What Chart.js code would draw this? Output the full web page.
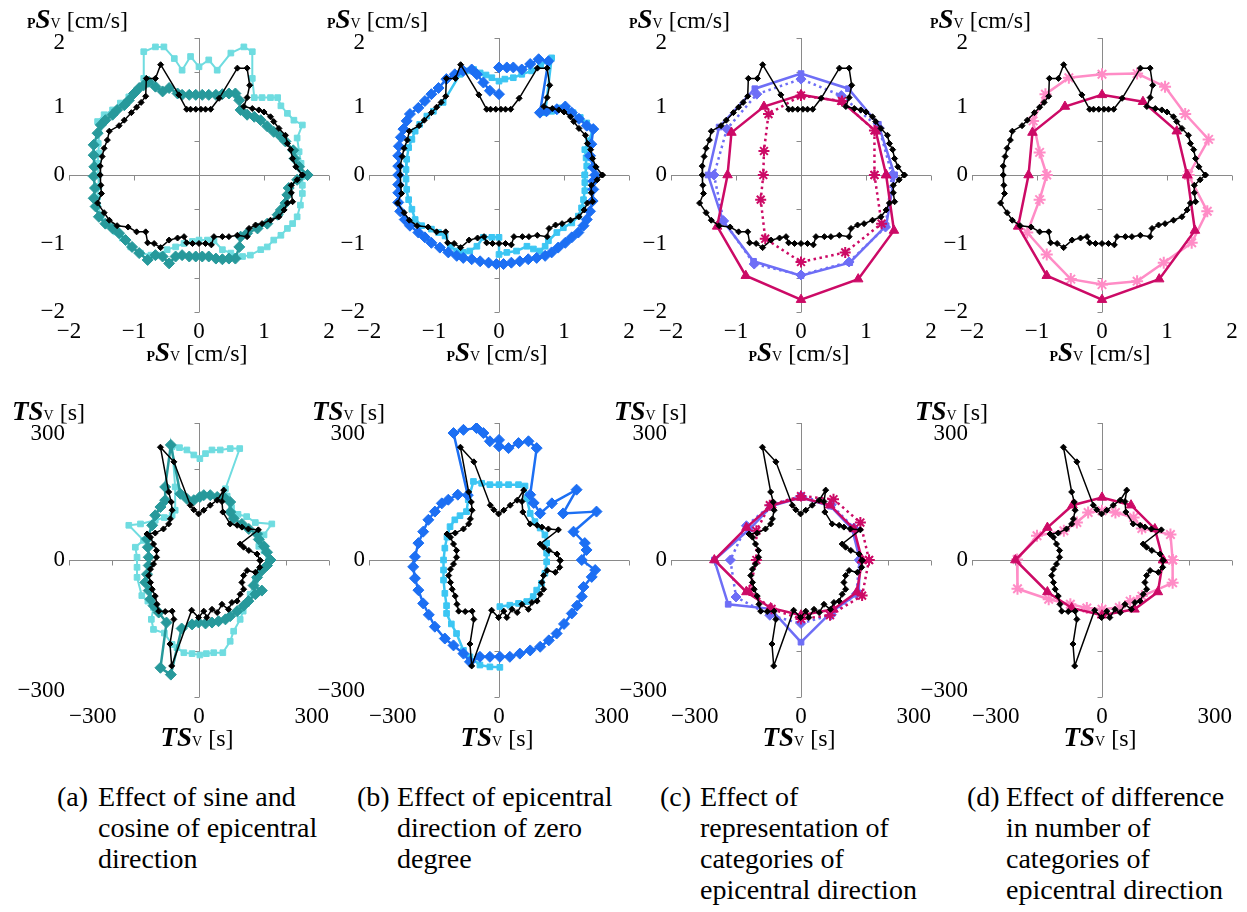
<!DOCTYPE html>
<html>
<head>
<meta charset="utf-8">
<script src="https://cdn.jsdelivr.net/npm/chart.js@4.4.0/dist/chart.umd.min.js"></script>
<style>
  body { margin: 0; background: #fff; width: 1247px; height: 912px; position: relative; overflow: hidden;
         font-family: 'Liberation Serif', 'Times New Roman', Tinos, 'Nimbus Roman', 'DejaVu Serif', serif; color: #000; }
  canvas { position: absolute; }
  .t { position: absolute; white-space: nowrap; font-size: 24px; line-height: 24px; }
  .t b { font-style: italic; font-size: 27px; }
  .t .s { font-size: 14px; }
  .t .p { font-size: 14px; font-weight: bold; }
  .cap { position: absolute; top: 781px; font-size: 28px; line-height: 31px; white-space: nowrap; }
  .cap .lbl { position: absolute; left: 0; top: 0; }
  .probe { position: absolute; left: 1150px; top: 0; font-size: 12px; }
</style>
</head>
<body>
<script>
/* global Chart */
const SERIF = "'Liberation Serif', 'Times New Roman', Tinos, 'Nimbus Roman', 'DejaVu Serif', serif";

// tick labels / tick marks
const psTicks = [-2, -1, 0, 1, 2];
const psMarksX = [-2, -1, 1, 2];
const psMarksY = [-2, -1.5, -0.5, 0.5, 1.5, 2];
const tsTicks = [-300, 0, 300];
const tsMarks = [-300, -200, 200, 300];

// ---- pSv [cm/s] (top row), [x, y] pairs in plot order ----
const blackPS = [[1.59,0],[1.49,0.12],[1.44,0.24],[1.41,0.37],[1.36,0.46],[1.33,0.58],[1.23,0.68],[1.15,0.78],[1.10,0.85],[1.00,0.92],[0.92,0.95],[0.82,0.97],[0.69,1.00],[0.74,1.13],[0.78,1.31],[0.74,1.56],[0.59,1.56],[0.31,1.12],[0.18,0.96],[0.10,0.96],[0.03,0.96],[-0.05,0.96],[-0.13,0.96],[-0.19,0.96],[-0.31,1.17],[-0.59,1.61],[-0.67,1.41],[-0.81,1.41],[-0.82,1.15],[-0.89,1.06],[-0.96,0.99],[-1.04,0.91],[-1.15,0.80],[-1.23,0.72],[-1.38,0.64],[-1.41,0.51],[-1.46,0.39],[-1.49,0.27],[-1.52,0.13],[-1.52,0],[-1.51,-0.15],[-1.50,-0.27],[-1.56,-0.41],[-1.46,-0.55],[-1.38,-0.66],[-1.26,-0.74],[-1.09,-0.76],[-0.96,-0.83],[-0.82,-0.83],[-0.79,-0.99],[-0.69,-1.00],[-0.59,-1.06],[-0.46,-0.95],[-0.33,-0.92],[-0.23,-0.90],[-0.19,-0.99],[-0.10,-1.00],[0,-1.00],[0.10,-1.00],[0.19,-1.02],[0.23,-0.90],[0.36,-0.90],[0.46,-0.90],[0.59,-0.88],[0.74,-0.90],[0.77,-0.78],[0.87,-0.73],[0.97,-0.71],[1.10,-0.66],[1.23,-0.61],[1.31,-0.51],[1.36,-0.41],[1.44,-0.39],[1.42,-0.26],[1.42,-0.15],[1.51,-0.07]];
const tealPS = [[1.67,0],[1.54,0.12],[1.47,0.24],[1.45,0.36],[1.33,0.49],[1.26,0.56],[1.15,0.63],[1.05,0.71],[0.95,0.80],[0.85,0.85],[0.74,0.88],[0.64,0.95],[0.62,1.09],[0.56,1.19],[0.46,1.19],[0.36,1.18],[0.26,1.17],[0.15,1.17],[0.05,1.17],[-0.05,1.17],[-0.15,1.17],[-0.26,1.17],[-0.33,1.19],[-0.46,1.27],[-0.56,1.22],[-0.67,1.29],[-0.77,1.36],[-0.85,1.31],[-0.92,1.27],[-1.00,1.19],[-1.08,1.09],[-1.15,1.02],[-1.26,0.95],[-1.33,0.88],[-1.44,0.80],[-1.51,0.73],[-1.56,0.61],[-1.62,0.44],[-1.62,0.29],[-1.61,0.12],[-1.62,-0.02],[-1.60,-0.19],[-1.62,-0.34],[-1.59,-0.46],[-1.54,-0.61],[-1.44,-0.71],[-1.33,-0.78],[-1.23,-0.85],[-1.13,-0.95],[-1.03,-1.05],[-0.92,-1.14],[-0.79,-1.24],[-0.67,-1.17],[-0.56,-1.19],[-0.46,-1.29],[-0.36,-1.19],[-0.26,-1.17],[-0.15,-1.19],[-0.05,-1.19],[0.05,-1.19],[0.15,-1.19],[0.26,-1.22],[0.36,-1.23],[0.46,-1.22],[0.56,-1.22],[0.62,-1.05],[0.64,-0.90],[0.74,-0.85],[0.90,-0.78],[1.05,-0.71],[1.21,-0.58],[1.26,-0.51],[1.33,-0.41],[1.36,-0.29],[1.38,-0.19],[1.51,-0.07]];
const cyanPS = [[1.59,-0.02],[1.57,0.17],[1.54,0.34],[1.51,0.54],[1.59,0.73],[1.46,0.80],[1.36,0.90],[1.26,1.01],[1.21,1.13],[1.10,1.13],[0.97,1.13],[0.85,1.13],[0.82,1.41],[0.82,1.80],[0.69,1.87],[0.49,1.78],[0.28,1.53],[0.15,1.68],[0,1.58],[-0.13,1.73],[-0.26,1.53],[-0.38,1.70],[-0.54,1.87],[-0.67,1.87],[-0.85,1.80],[-0.85,1.41],[-0.95,1.24],[-1.08,1.14],[-1.21,1.05],[-1.33,0.95],[-1.46,0.88],[-1.56,0.78],[-1.54,0.63],[-1.55,0.46],[-1.54,0.32],[-1.56,0.17],[-1.55,0],[-1.54,-0.17],[-1.56,-0.32],[-1.56,-0.44],[-1.51,-0.58],[-1.41,-0.73],[-1.28,-0.83],[-1.18,-0.92],[-1.05,-1.05],[-0.90,-1.14],[-0.74,-1.17],[-0.62,-1.17],[-0.49,-1.09],[-0.36,-1.05],[-0.23,-1.00],[-0.10,-0.97],[0,-0.95],[0.13,-0.95],[0.23,-0.96],[0.36,-1.09],[0.49,-1.14],[0.67,-1.19],[0.79,-1.17],[0.95,-1.09],[1.05,-1.05],[1.15,-0.95],[1.26,-0.88],[1.36,-0.78],[1.44,-0.71],[1.51,-0.61],[1.56,-0.44],[1.59,-0.27],[1.59,-0.15]];
// open curve: starts at (0, 1.18), ends at (0, 1.57)
const bluePS = [[0,1.18],[-0.14,1.23],[-0.24,1.35],[-0.34,1.47],[-0.42,1.54],[-0.55,1.52],[-0.68,1.47],[-0.81,1.40],[-0.93,1.27],[-1.04,1.18],[-1.14,1.08],[-1.24,0.98],[-1.37,0.89],[-1.42,0.79],[-1.47,0.67],[-1.51,0.55],[-1.54,0.42],[-1.55,0.28],[-1.55,0.13],[-1.55,0],[-1.55,-0.14],[-1.55,-0.26],[-1.55,-0.40],[-1.52,-0.53],[-1.45,-0.65],[-1.37,-0.74],[-1.24,-0.84],[-1.14,-0.91],[-1.04,-0.99],[-0.91,-1.06],[-0.78,-1.13],[-0.65,-1.18],[-0.55,-1.21],[-0.42,-1.23],[-0.29,-1.26],[-0.16,-1.28],[-0.04,-1.30],[0.07,-1.30],[0.19,-1.28],[0.32,-1.26],[0.45,-1.23],[0.58,-1.21],[0.71,-1.18],[0.81,-1.13],[0.91,-1.06],[1.02,-0.99],[1.12,-0.91],[1.22,-0.84],[1.30,-0.74],[1.35,-0.65],[1.40,-0.53],[1.44,-0.38],[1.45,-0.21],[1.45,-0.09],[1.48,0],[1.45,0.11],[1.40,0.28],[1.42,0.45],[1.45,0.67],[1.35,0.72],[1.23,0.82],[1.12,0.91],[1.02,1.00],[0.89,0.96],[0.73,0.93],[0.63,0.91],[0.76,1.66],[0.61,1.69],[0.48,1.62],[0.35,1.54],[0.22,1.57],[0.12,1.57],[0,1.57]];
const lbluePS = [[1.32,0],[1.35,0.13],[1.34,0.25],[1.32,0.37],[1.38,0.50],[1.45,0.67],[1.35,0.76],[1.25,0.84],[1.14,0.91],[1.04,0.96],[0.92,0.98],[0.81,0.93],[0.71,0.91],[0.81,1.71],[0.64,1.60],[0.50,1.52],[0.35,1.47],[0.22,1.42],[0.09,1.40],[0,1.37],[-0.11,1.42],[-0.20,1.46],[-0.29,1.49],[-0.39,1.54],[-0.50,1.52],[-0.60,1.47],[-0.86,1.06],[-1.01,0.93],[-1.11,0.86],[-1.22,0.74],[-1.29,0.64],[-1.34,0.52],[-1.39,0.40],[-1.42,0.23],[-1.43,0.08],[-1.43,-0.06],[-1.42,-0.21],[-1.39,-0.36],[-1.34,-0.50],[-1.29,-0.65],[-1.19,-0.74],[-1.04,-0.79],[-0.93,-0.84],[-0.83,-0.89],[-0.75,-1.04],[-0.65,-1.11],[-0.55,-1.13],[-0.45,-1.11],[-0.34,-1.04],[-0.24,-0.91],[-0.11,-0.91],[0,-0.91],[0,-1.16],[0.12,-1.13],[0.27,-1.11],[0.43,-1.04],[0.53,-1.08],[0.63,-1.11],[0.71,-1.04],[0.76,-0.96],[0.89,-0.84],[0.99,-0.77],[1.12,-0.70],[1.22,-0.60],[1.27,-0.48],[1.30,-0.36],[1.32,-0.23],[1.32,-0.11]];
const periPS = [[1.44,0],[1.19,0.74],[0.73,1.26],[0,1.48],[-0.71,1.26],[-1.26,0.70],[-1.43,0],[-1.20,-0.67],[-0.73,-1.26],[0,-1.47],[0.75,-1.28],[1.31,-0.74]];
const periDotPS = [[1.40,0],[1.20,0.69],[0.62,1.16],[0,1.40],[-0.68,1.18],[-1.14,0.67],[-1.34,0],[-1.19,-0.67],[-0.72,-1.30],[0,-1.46],[0.74,-1.27],[1.30,-0.76]];
const crimsonPS = [[1.31,0],[1.15,0.64],[0.63,1.07],[0,1.17],[-0.57,1.00],[-1.07,0.62],[-1.13,0],[-1.29,-0.75],[-0.85,-1.47],[0,-1.82],[0.88,-1.52],[1.43,-0.81]];
const crimsonDotPS = [[1.13,0],[1.13,0.65],[0.63,1.08],[0,1.16],[-0.50,0.89],[-0.57,0.35],[-0.58,0],[-0.62,-0.36],[-0.55,-0.93],[0,-1.27],[0.68,-1.13],[1.24,-0.71]];
const pinkPS = [[1.33,0],[1.64,0.52],[1.28,0.89],[0.97,1.29],[0.54,1.48],[0,1.47],[-0.51,1.42],[-0.87,1.18],[-1.06,0.79],[-0.96,0.33],[-0.85,0],[-0.96,-0.36],[-1.15,-0.84],[-0.85,-1.16],[-0.48,-1.52],[0,-1.60],[0.54,-1.55],[0.95,-1.28],[1.38,-0.99],[1.62,-0.53]];

// ---- TSv [s] (bottom row) ----
const blackTS = [[141,-1],[134,13],[115,21],[103,28],[95,35],[137,66],[114,68],[99,72],[88,76],[72,79],[55,105],[53,128],[57,153],[42,131],[26,120],[11,109],[-1,101],[-12,110],[-20,120],[-58,215],[-89,247],[-70,149],[-64,127],[-62,109],[-66,90],[-70,79],[-82,68],[-101,59],[-120,57],[-112,50],[-105,35],[-98,21],[-98,6],[-105,-9],[-112,-20],[-116,-34],[-112,-49],[-108,-64],[-101,-79],[-97,-97],[-93,-112],[-78,-113],[-62,-112],[-58,-130],[-67,-184],[-63,-232],[-17,-110],[-1,-126],[11,-112],[18,-126],[30,-108],[42,-115],[53,-97],[68,-108],[76,-93],[88,-90],[95,-75],[103,-64],[99,-49],[103,-34],[111,-23],[130,-27],[140,-16]];
const tealTS = [[165,0],[157,17],[150,30],[138,45],[134,57],[115,68],[99,79],[80,91],[72,105],[72,127],[57,138],[42,138],[26,142],[11,142],[2,138],[-12,131],[-28,134],[-43,145],[-65,252],[-78,160],[-78,131],[-89,116],[-101,98],[-108,76],[-120,46],[-118,28],[-116,6],[-116,-12],[-120,-31],[-124,-49],[-116,-67],[-112,-86],[-105,-100],[-93,-115],[-75,-137],[-89,-236],[-65,-251],[-40,-150],[-16,-141],[-1,-137],[15,-139],[30,-137],[45,-134],[61,-130],[72,-123],[88,-112],[103,-100],[114,-90],[130,-75],[145,-67],[126,-56],[134,-38],[145,-23],[157,-12]];
const cyanTS = [[161,0],[150,20],[138,30],[150,55],[168,79],[130,82],[110,95],[90,100],[75,115],[65,140],[61,156],[94,244],[72,244],[49,241],[30,241],[15,233],[2,222],[-12,230],[-28,241],[-45,246],[-62,248],[-55,160],[-55,109],[-62,98],[-80,93],[-101,87],[-135,79],[-162,76],[-128,43],[-147,28],[-143,6],[-143,-16],[-143,-38],[-132,-78],[-118,-90],[-105,-104],[-110,-130],[-105,-152],[-80,-160],[-62,-185],[-51,-192],[-35,-203],[-16,-205],[2,-208],[17,-205],[34,-203],[55,-203],[72,-178],[80,-156],[95,-130],[102,-112],[110,-95],[118,-75],[130,-45],[141,-23]];
// open curve: starts at (0, 263), ends at (0, 249)
const blueTS = [[0,263],[-21,260],[-36,278],[-52,289],[-82,285],[-105,278],[-72,142],[-95,143],[-117,132],[-132,124],[-148,106],[-163,88],[-175,62],[-186,37],[-194,7],[-198,-15],[-194,-40],[-186,-66],[-175,-95],[-162,-120],[-148,-146],[-125,-172],[-105,-187],[-82,-205],[-67,-223],[-44,-212],[-21,-212],[2,-212],[25,-212],[48,-205],[72,-198],[95,-190],[115,-176],[133,-161],[150,-140],[168,-117],[180,-100],[191,-80],[195,-59],[214,-37],[222,-22],[191,0],[202,22],[198,37],[172,62],[225,106],[148,102],[179,154],[122,124],[95,102],[80,125],[72,143],[87,245],[68,260],[45,256],[22,245],[0,249]];
// open curve: starts at (2, -102), ends at (2, -235)
const lblueTS = [[2,-102],[25,-99],[45,-95],[64,-91],[79,-80],[87,-66],[98,-51],[106,-29],[110,-4],[110,15],[110,37],[106,55],[95,70],[83,84],[72,102],[64,135],[60,162],[45,165],[22,165],[0,165],[-21,165],[-40,168],[-59,172],[-71,132],[-75,106],[-90,97],[-102,88],[-113,73],[-120,50],[-125,26],[-128,0],[-128,-22],[-128,-44],[-125,-73],[-121,-100],[-121,-117],[-110,-140],[-98,-161],[-82,-198],[-67,-212],[-44,-230],[-21,-234],[2,-235]];
const periTS = [[136,0],[118,68],[68,118],[0,137],[-68,118],[-118,68],[-200,0],[-168,-97],[-70,-107],[0,-180],[72,-112],[133,-72]];
const periDotTS = [[135,0],[122,70],[70,121],[0,140],[-70,120],[-126,75],[-163,0],[-150,-81],[-72,-121],[0,-139],[70,-120],[128,-74]];
const crimsonTS = [[141,0],[122,68],[67,120],[0,137],[-68,120],[-126,71],[-200,0],[-126,-70],[-70,-105],[0,-121],[75,-108],[129,-70]];
const crimsonDotTS = [[157,0],[137,82],[75,133],[0,140],[-72,120],[-103,64],[-103,0],[-119,-67],[-68,-107],[0,-129],[67,-121],[141,-78]];
const pinkTS = [[163,0],[158,56],[92,69],[73,93],[31,104],[0,108],[-32,104],[-58,82],[-88,64],[-150,53],[-196,1],[-195,-63],[-123,-86],[-73,-97],[-35,-105],[0,-108],[40,-104],[65,-90],[92,-79],[163,-50]];

const openCurves = new Set([bluePS, blueTS, lblueTS]);

// series looks
const look = {
  black:      { color: '#000000', width: 1.5, style: 'rectRot', r: 3 },
  teal:       { color: '#27999b', width: 2.5, style: 'rectRot', r: 5.5 },
  cyan:       { color: '#6fdce0', width: 2,   style: 'rect',    r: 4 },
  blue:       { color: '#1c6ff3', width: 2.5, style: 'rectRot', r: 5.5 },
  lblue:      { color: '#3cc6f3', width: 2.5, style: 'rect',    r: 4 },
  peri:       { color: '#6e6ef6', width: 2.5, style: 'rect',    r: 4 },
  periDot:    { color: '#6e6ef6', width: 2.5, style: 'rectRot', r: 5, dash: [2.5, 3.5] },
  crimson:    { color: '#cc0a66', width: 2.5, style: 'triangle', r: 5.5 },
  crimsonDot: { color: '#cc0a66', width: 2.5, style: 'star',    r: 5.5, dash: [2.5, 3.5] },
  pink:       { color: '#ff8cc6', width: 2.5, style: 'star',    r: 6 }
};

const colCenters = [199, 499, 801, 1102];
const rowTops = [38, 423];
const PW = 260, PH = 274, YW = 60, XH = 34, PADT = 12, PADR = 20;

const fmt = v => (v < 0 ? '\u2212' + Math.abs(v) : String(v));

const crossAxes = {
  id: 'crossAxes',
  beforeDatasetsDraw(chart, args, opts) {
    const { ctx, chartArea: a, scales: { x, y } } = chart;
    const x0 = Math.round(x.getPixelForValue(0)) + 0.5;
    const y0 = Math.round(y.getPixelForValue(0)) + 0.5;
    ctx.save();
    ctx.strokeStyle = '#8a8a8a';
    ctx.lineWidth = 1;
    ctx.beginPath();
    ctx.moveTo(a.left, y0); ctx.lineTo(a.right, y0);
    ctx.moveTo(x0, a.top); ctx.lineTo(x0, a.bottom);
    opts.xMarks.forEach(v => {
      const px = Math.round(x.getPixelForValue(v)) + 0.5;
      ctx.moveTo(px, y0); ctx.lineTo(px, y0 + 5);
    });
    opts.yMarks.forEach(v => {
      const py = Math.round(y.getPixelForValue(v)) + 0.5;
      ctx.moveTo(x0 - 5, py); ctx.lineTo(x0, py);
    });
    ctx.stroke();
    ctx.restore();
  }
};

// move the end labels of the y axis inward a little, like the original
function nudgeEnds(scale, dTop, dBottom) {
  if (scale.$nudged) return;
  scale.$nudged = true;
  const base = scale.getLabelItems;
  scale.getLabelItems = function (area) {
    const items = base.call(this, area);
    if (!items.$done && items.length) {
      items.$done = true;
      items[0].options.translation[1] -= dBottom;
      items[items.length - 1].options.translation[1] += dTop;
    }
    return items;
  };
}

function dataset(points, key) {
  const s = look[key];
  const pts = openCurves.has(points) ? points : points.concat([points[0]]);
  return {
    data: pts.map(([x, y]) => ({ x, y })),
    showLine: true,
    borderColor: s.color,
    backgroundColor: s.color,
    borderWidth: s.width,
    borderDash: s.dash || [],
    tension: 0,
    pointStyle: s.style,
    pointRadius: s.r,
    pointBorderWidth: s.style === 'star' ? 2 : 1,
    pointBorderColor: s.color,
    pointBackgroundColor: s.color
  };
}

function panel(col, row, series) {
  const top = row === 0;
  const cv = document.createElement('canvas');
  cv.width = YW + PW + PADR;
  cv.height = PADT + PH + XH;
  cv.style.left = (colCenters[col] - PW / 2 - YW) + 'px';
  cv.style.top = (rowTops[row] - PADT) + 'px';
  document.body.appendChild(cv);

  const lim = top ? 2 : 300;
  const labels = top ? psTicks : tsTicks;
  const tickFont = { family: SERIF, size: 23 };

  new Chart(cv, {
    type: 'scatter',
    data: { datasets: series.map(([pts, key]) => dataset(pts, key)) },
    options: {
      responsive: false,
      animation: false,
      devicePixelRatio: 1,
      layout: { padding: { top: PADT, right: PADR, left: 0, bottom: 0 } },
      plugins: {
        legend: { display: false },
        tooltip: { enabled: false },
        crossAxes: { xMarks: top ? psMarksX : tsMarks, yMarks: top ? psMarksY : tsMarks }
      },
      scales: {
        x: {
          type: 'linear', min: -lim, max: lim,
          grid: { display: false, drawTicks: false }, border: { display: false },
          ticks: { font: tickFont, color: '#000', padding: 6, maxRotation: 0, autoSkip: false,
                   align: top ? 'center' : 'inner', callback: fmt },
          afterBuildTicks: s => { s.ticks = labels.map(v => ({ value: v })); },
          afterFit: s => { s.height = XH; s.paddingLeft = 0; s.paddingRight = 0; }
        },
        y: {
          type: 'linear', min: -lim, max: lim,
          grid: { display: false, drawTicks: false }, border: { display: false },
          ticks: { font: tickFont, color: '#000', padding: 4, autoSkip: false, callback: fmt },
          afterBuildTicks: s => { s.ticks = labels.map(v => ({ value: v })); },
          afterFit: s => {
            s.width = YW; s.paddingTop = 0; s.paddingBottom = 0;
            nudgeEnds(s, top ? 5 : 11, top ? 0 : 6);
          }
        }
      }
    },
    plugins: [crossAxes]
  });

  // axis titles
  const psTitle = '<span class="p">P</span><b>S</b><span class="s">V</span> [cm/s]';
  const tsTitle = '<b>TS</b><span class="s">V</span> [s]';
  const yt = document.createElement('div');
  yt.className = 't';
  yt.innerHTML = top ? psTitle : tsTitle;
  yt.style.left = (colCenters[col] - (top ? 172 : 187)) + 'px';
  yt.style.top = (top ? 7 : 399) + 'px';
  document.body.appendChild(yt);

  const xt = document.createElement('div');
  xt.className = 't';
  xt.innerHTML = top ? psTitle : tsTitle;
  xt.style.left = (colCenters[col] - 2) + 'px';
  xt.style.top = (top ? 340 : 725) + 'px';
  xt.style.transform = 'translateX(-50%)';
  document.body.appendChild(xt);
}

panel(0, 0, [[blackPS, 'black'], [tealPS, 'teal'], [cyanPS, 'cyan']]);
panel(1, 0, [[blackPS, 'black'], [bluePS, 'blue'], [lbluePS, 'lblue']]);
panel(2, 0, [[blackPS, 'black'], [crimsonDotPS, 'crimsonDot'], [crimsonPS, 'crimson'], [periDotPS, 'periDot'], [periPS, 'peri']]);
panel(3, 0, [[blackPS, 'black'], [crimsonPS, 'crimson'], [pinkPS, 'pink']]);
panel(0, 1, [[blackTS, 'black'], [tealTS, 'teal'], [cyanTS, 'cyan']]);
panel(1, 1, [[blackTS, 'black'], [blueTS, 'blue'], [lblueTS, 'lblue']]);
panel(2, 1, [[blackTS, 'black'], [crimsonDotTS, 'crimsonDot'], [crimsonTS, 'crimson'], [periDotTS, 'periDot'], [periTS, 'peri']]);
panel(3, 1, [[blackTS, 'black'], [crimsonTS, 'crimson'], [pinkTS, 'pink']]);

// captions
const captions = [
  { lbl: '(a)', x: 57, tx: 41, lines: ['Effect of sine and', 'cosine of epicentral', 'direction'] },
  { lbl: '(b)', x: 357, tx: 40, lines: ['Effect of epicentral', 'direction of zero', 'degree'] },
  { lbl: '(c)', x: 660, tx: 40, lines: ['Effect of', 'representation of', 'categories of', 'epicentral direction'] },
  { lbl: '(d)', x: 967, tx: 39, lines: ['Effect of difference', 'in number of', 'categories of', 'epicentral direction'] }
];
captions.forEach(c => {
  const d = document.createElement('div');
  d.className = 'cap';
  d.style.left = c.x + 'px';
  d.innerHTML = '<span class="lbl">' + c.lbl + '</span><div style="margin-left:' + c.tx + 'px">' +
    c.lines.join('<br>') + '</div>';
  document.body.appendChild(d);
});
</script>
</body>
</html>
